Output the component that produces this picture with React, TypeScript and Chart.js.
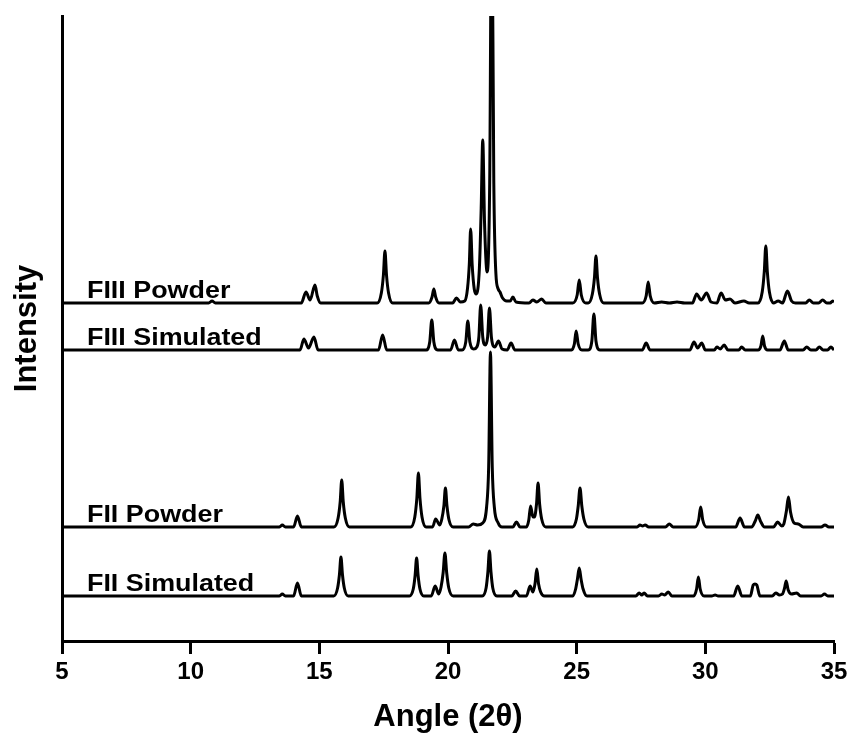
import React, { useEffect, useRef } from "react";
import { Chart, registerables } from "chart.js";

Chart.register(...registerables);

// Angle (2θ) ticks
const X_MIN = 5;
const X_MAX = 35;
const X_STEP = 5;
const Y_MAX = 625;

const SERIES_NAMES = ["FIII Powder", "FIII Simulated", "FII Powder", "FII Simulated"];
// vertical stacking offsets of each trace
const SERIES_OFFSETS = [338, 291, 114, 45];

// [angle, intensity above trace baseline]
const FIII_POWDER: number[][] = [
  [5, 0], [10.7, 0], [10.83, 2], [10.96, 0],
  [14.3, 0], [14.48, 11], [14.64, 3], [14.83, 18], [14.92, 7], [15.05, 0],
  [17.25, 0], [17.41, 10], [17.49, 28], [17.55, 52], [17.61, 28], [17.69, 10], [17.85, 0],
  [19.25, 0], [19.38, 6], [19.45, 14], [19.52, 6], [19.65, 0],
  [20.18, 0], [20.33, 5], [20.48, 1],
  [20.65, 2], [20.76, 15], [20.83, 40], [20.88, 74], [20.94, 38], [21.02, 14], [21.1, 9],
  [21.22, 35], [21.29, 95], [21.35, 163], [21.42, 80], [21.52, 31],
  [21.62, 120], [21.7, 420], [21.78, 120], [21.86, 30], [21.95, 14], [22.02, 11], [22.12, 5], [22.28, 2],
  [22.42, 2], [22.52, 6], [22.64, 1],
  [23.15, 0], [23.3, 3], [23.45, 1], [23.64, 4], [23.8, 0],
  [24.85, 0], [25.02, 8], [25.1, 23], [25.18, 8], [25.35, 0],
  [25.45, 0], [25.61, 9], [25.69, 25], [25.75, 47], [25.81, 25], [25.89, 9], [26.05, 0],
  [27.55, 0], [27.7, 7], [27.78, 21], [27.86, 7], [28.02, 0],
  [28.3, 1], [28.6, 0], [28.9, 1], [29.2, 0],
  [29.5, 0], [29.66, 9], [29.84, 3], [30.05, 10], [30.22, 1],
  [30.45, 0], [30.61, 10], [30.78, 3], [30.96, 4], [31.15, 0],
  [31.5, 2], [31.7, 0],
  [32.05, 0], [32.21, 11], [32.29, 31], [32.35, 57], [32.41, 31], [32.49, 11], [32.65, 0],
  [32.83, 2], [33.0, 0], [33.19, 12], [33.35, 2], [33.5, 0],
  [33.9, 0], [34.04, 3], [34.2, 0], [34.4, 0], [34.56, 3], [34.72, 0], [34.85, 0], [34.95, 2], [35, 1],
];

const FIII_SIMULATED: number[][] = [
  [5, 0], [14.25, 0], [14.4, 11], [14.58, 2], [14.79, 13], [14.95, 0],
  [17.3, 0], [17.46, 15], [17.62, 0],
  [19.15, 0], [19.29, 8], [19.37, 30], [19.45, 8], [19.6, 0],
  [20.1, 0], [20.25, 10], [20.4, 0],
  [20.55, 0], [20.69, 8], [20.77, 29], [20.85, 8], [21.0, 1],
  [21.12, 3], [21.2, 13], [21.27, 45], [21.35, 13], [21.45, 5],
  [21.54, 13], [21.61, 42], [21.69, 12], [21.82, 3], [21.96, 9], [22.1, 1],
  [22.3, 0], [22.45, 7], [22.6, 0],
  [24.8, 0], [24.91, 6], [24.98, 19], [25.06, 6], [25.2, 0],
  [25.45, 0], [25.59, 9], [25.67, 36], [25.75, 9], [25.9, 0],
  [27.55, 0], [27.7, 7], [27.85, 0],
  [29.4, 0], [29.56, 8], [29.7, 2], [29.86, 7], [30.0, 0],
  [30.35, 0], [30.45, 3], [30.58, 1], [30.73, 5], [30.88, 0],
  [31.3, 0], [31.41, 3], [31.55, 0],
  [32.05, 0], [32.16, 4], [32.23, 14], [32.3, 4], [32.42, 0],
  [32.9, 0], [33.07, 9], [33.22, 0],
  [33.8, 0], [33.94, 3], [34.1, 0], [34.3, 0], [34.43, 3], [34.58, 0], [34.75, 0], [34.88, 3], [35, 0],
];

const FII_POWDER: number[][] = [
  [5, 0], [13.45, 0], [13.56, 2], [13.68, 0],
  [14.0, 0], [14.15, 11], [14.3, 0],
  [15.57, 0], [15.73, 9], [15.81, 25], [15.87, 47], [15.93, 25], [16.01, 9], [16.17, 0],
  [18.55, 0], [18.71, 10], [18.79, 29], [18.85, 54], [18.91, 29], [18.99, 10], [19.15, 0],
  [19.4, 0], [19.52, 8], [19.68, 2],
  [19.76, 8], [19.84, 21], [19.9, 39], [19.96, 21], [20.04, 7], [20.2, 0],
  [20.8, 0], [20.98, 3], [21.15, 2],
  [21.35, 4], [21.5, 20], [21.58, 60], [21.65, 175], [21.72, 60], [21.8, 20], [21.95, 4], [22.1, 0],
  [22.52, 0], [22.66, 5], [22.8, 0],
  [23.05, 0], [23.14, 7], [23.21, 21], [23.3, 10], [23.36, 10], [23.44, 23], [23.5, 44], [23.56, 23], [23.64, 8], [23.8, 0],
  [24.85, 0], [24.99, 8], [25.06, 21], [25.13, 39], [25.2, 21], [25.28, 8], [25.45, 0],
  [27.35, 0], [27.46, 2], [27.56, 1], [27.66, 2], [27.8, 0],
  [28.45, 0], [28.6, 3], [28.75, 0],
  [29.6, 0], [29.74, 7], [29.82, 20], [29.9, 7], [30.05, 0],
  [31.18, 0], [31.35, 9], [31.52, 0],
  [31.8, 0], [31.94, 6], [32.04, 12], [32.14, 6], [32.3, 0],
  [32.65, 0], [32.81, 5], [32.97, 1],
  [33.05, 3], [33.15, 16], [33.23, 30], [33.31, 15], [33.45, 4], [33.61, 3], [33.8, 0],
  [34.5, 0], [34.65, 2], [34.8, 0], [35, 0],
];

const FII_SIMULATED: number[][] = [
  [5, 0], [13.45, 0], [13.56, 2], [13.68, 0],
  [14.0, 0], [14.15, 13], [14.3, 0],
  [15.56, 0], [15.71, 8], [15.78, 21], [15.84, 39], [15.9, 21], [15.97, 8], [16.12, 0],
  [18.5, 0], [18.65, 7], [18.72, 20], [18.78, 38], [18.84, 20], [18.91, 7], [19.06, 0],
  [19.35, 0], [19.5, 10], [19.64, 2],
  [19.73, 9], [19.81, 23], [19.88, 43], [19.95, 23], [20.03, 8], [20.2, 0],
  [21.33, 0], [21.48, 8], [21.55, 24], [21.61, 45], [21.67, 24], [21.74, 8], [21.9, 0],
  [22.48, 0], [22.63, 5], [22.78, 0],
  [23.05, 0], [23.19, 10], [23.3, 4], [23.38, 12], [23.45, 27], [23.52, 12], [23.6, 4], [23.75, 0],
  [24.85, 0], [24.96, 7], [25.03, 17], [25.1, 28], [25.17, 17], [25.25, 7], [25.4, 0],
  [27.3, 0], [27.43, 3], [27.53, 1], [27.62, 3], [27.75, 0],
  [28.18, 0], [28.31, 2], [28.42, 1], [28.56, 4], [28.7, 0],
  [29.55, 0], [29.66, 7], [29.73, 19], [29.8, 7], [29.95, 0],
  [30.25, 0], [30.38, 1], [30.5, 0],
  [31.1, 0], [31.26, 10], [31.42, 0],
  [31.75, 0], [31.86, 11], [31.93, 12], [32.0, 11], [32.12, 0],
  [32.6, 0], [32.74, 3], [32.88, 1],
  [33.0, 2], [33.08, 8], [33.14, 15], [33.22, 6], [33.35, 2], [33.55, 3], [33.7, 0],
  [34.5, 0], [34.63, 2], [34.76, 0], [35, 0],
];

const SERIES_DATA = [FIII_POWDER, FIII_SIMULATED, FII_POWDER, FII_SIMULATED];

const LABEL_X = 5.97;
const FONT = "'Liberation Sans', Arial, Helvetica, sans-serif";

const labelPlugin = {
  id: "traceLabels",
  afterDatasetsDraw(chart: any) {
    const { ctx, scales } = chart;
    const xs = scales.x;
    const ys = scales.y;
    ctx.save();
    ctx.fillStyle = "#000";
    ctx.font = `bold 24px ${FONT}`;
    ctx.textAlign = "left";
    ctx.textBaseline = "alphabetic";
    SERIES_NAMES.forEach((name, i) => {
      const px = xs.getPixelForValue(LABEL_X);
      const py = ys.getPixelForValue(SERIES_OFFSETS[i]) - 5;
      ctx.save();
      ctx.translate(px, py);
      ctx.scale(1.12, 1);
      ctx.fillText(name, 0, 0);
      ctx.restore();
    });
    ctx.restore();
  },
};

export default function App() {
  const ref = useRef<HTMLCanvasElement | null>(null);

  useEffect(() => {
    if (!ref.current) return;
    const datasets = SERIES_DATA.map((pts, i) => ({
      label: SERIES_NAMES[i],
      data: pts.map(([x, y]) => ({ x, y: y + SERIES_OFFSETS[i] })),
      showLine: true,
      borderColor: "#000",
      borderWidth: 3,
      pointRadius: 0,
      cubicInterpolationMode: "monotone" as const,
      fill: false,
      borderJoinStyle: "round" as const,
    }));
    const chart = new Chart(ref.current, {
      type: "scatter",
      data: { datasets },
      plugins: [labelPlugin],
      options: {
        animation: false,
        responsive: false,
        devicePixelRatio: 1,
        layout: { padding: { left: 0, right: 20, top: 16, bottom: 0 } },
        plugins: { legend: { display: false }, tooltip: { enabled: false } },
        scales: {
          x: {
            type: "linear",
            min: X_MIN,
            max: X_MAX,
            afterFit: (s: any) => { s.height = 104; },
            ticks: {
              stepSize: X_STEP,
              color: "#000",
              padding: 4,
              maxRotation: 0,
              font: { family: FONT, size: 24, weight: "bold" },
            },
            grid: {
              display: true,
              drawOnChartArea: false,
              drawTicks: true,
              tickLength: 13,
              tickWidth: 3,
              tickColor: "#000",
            },
            border: { display: true, color: "#000", width: 3 },
            title: {
              display: true,
              text: "Angle (2θ)",
              color: "#000",
              font: { family: FONT, size: 31, weight: "bold" },
              padding: { top: 4, bottom: 9 },
            },
          },
          y: {
            type: "linear",
            min: 0,
            max: Y_MAX,
            afterFit: (s: any) => { s.width = 62; },
            ticks: { display: false },
            grid: { display: false },
            border: { display: true, color: "#000", width: 3 },
            title: {
              display: true,
              text: "Intensity",
              color: "#000",
              font: { family: FONT, size: 31, weight: "bold" },
              padding: { top: 9, bottom: 0 },
            },
          },
        },
      },
    });
    return () => chart.destroy();
  }, []);

  return (
    <div style={{ position: "absolute", left: 0, top: 0, width: 854, height: 745, background: "#fff" }}>
      <canvas ref={ref} width={854} height={745} />
    </div>
  );
}
